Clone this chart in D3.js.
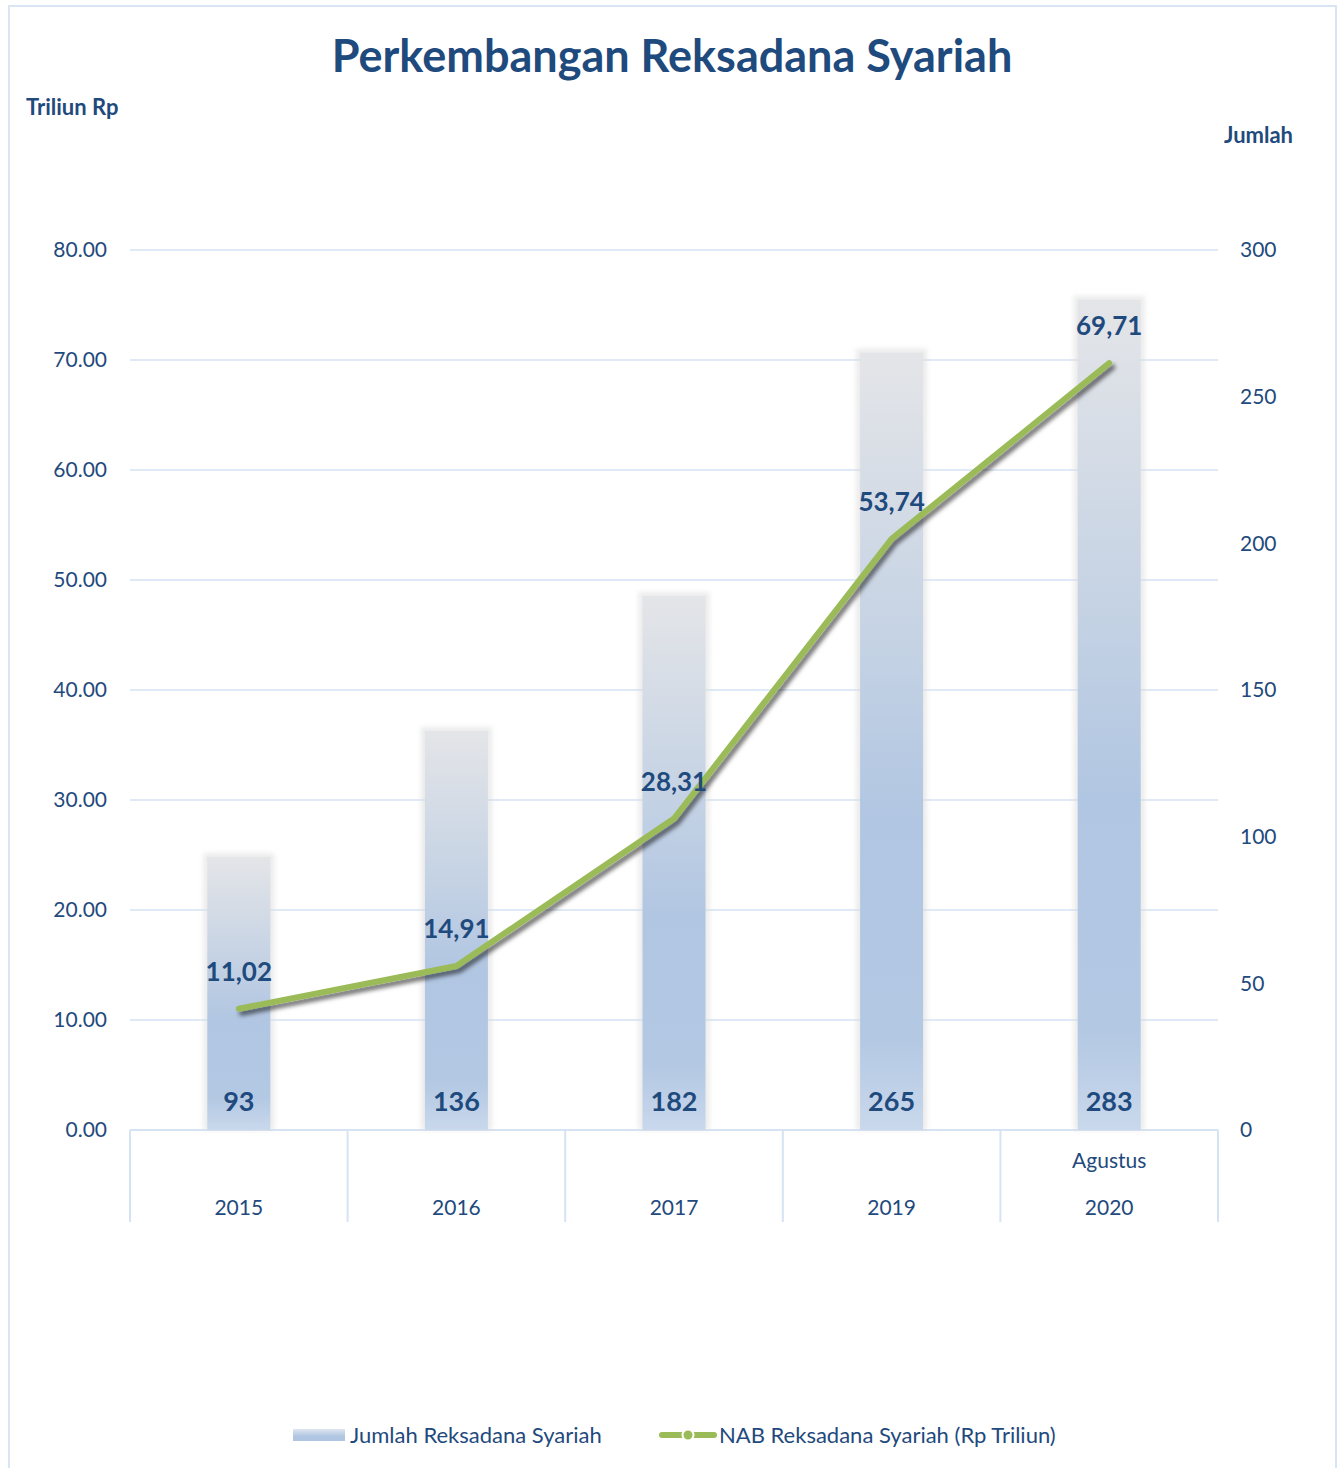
<!DOCTYPE html>
<html>
<head>
<meta charset="utf-8">
<script src="https://cdn.jsdelivr.net/npm/d3@7"></script>
<style>
  html, body { margin: 0; padding: 0; background: #fff; }
  svg { display: block; }
  text { font-family: Lato, "Open Sans", sans-serif; }
</style>
</head>
<body>
<svg id="chart" width="1343" height="1468"></svg>
<script>
// ---- data ----
const categories = ["2015", "2016", "2017", "2019", "2020"];
const categoryPrefix = ["", "", "", "", "Agustus"];
const jumlahReksadana = [93, 136, 182, 265, 283];
const nabReksadana = [11.02, 14.91, 28.31, 53.74, 69.71];
const nabLabels = ["11,02", "14,91", "28,31", "53,74", "69,71"];
const leftTicks = [0, 10, 20, 30, 40, 50, 60, 70, 80];
const rightTicks = [0, 50, 100, 150, 200, 250, 300];
const title = "Perkembangan Reksadana Syariah";
const seriesNames = ["Jumlah Reksadana Syariah", "NAB Reksadana Syariah (Rp Triliun)"];

// ---- layout ----
const W = 1343, H = 1468;
const plot = { left: 130, right: 1218, top: 250, bottom: 1130 };
const textColor = "#1f4a7d";
const gridColor = "#d6e3f3";

const svg = d3.select("#chart");
const defs = svg.append("defs");

// gradients
const g1 = defs.append("linearGradient").attr("id", "barGrad")
  .attr("x1", 0).attr("y1", 0).attr("x2", 0).attr("y2", 1);
g1.append("stop").attr("offset", "0%").attr("stop-color", "#e4e5e8");
g1.append("stop").attr("offset", "38%").attr("stop-color", "#c4d2e4");
g1.append("stop").attr("offset", "60%").attr("stop-color", "#b1c6e2");
g1.append("stop").attr("offset", "88%").attr("stop-color", "#b3c8e3");
g1.append("stop").attr("offset", "100%").attr("stop-color", "#c9d8ec");

const g2 = defs.append("linearGradient").attr("id", "legGrad")
  .attr("x1", 0).attr("y1", 0).attr("x2", 0).attr("y2", 1);
g2.append("stop").attr("offset", "0%").attr("stop-color", "#dfe6f0");
g2.append("stop").attr("offset", "60%").attr("stop-color", "#b1c6e2");
g2.append("stop").attr("offset", "100%").attr("stop-color", "#afc4e1");

const glow = defs.append("filter").attr("id", "glow")
  .attr("x", "-30%").attr("y", "-10%").attr("width", "160%").attr("height", "120%");
glow.append("feGaussianBlur").attr("stdDeviation", 2.5);

const shadow = defs.append("filter").attr("id", "shadow")
  .attr("x", "-10%").attr("y", "-10%").attr("width", "130%").attr("height", "130%");
shadow.append("feDropShadow").attr("dx", 3).attr("dy", 4).attr("stdDeviation", 2)
  .attr("flood-color", "#000").attr("flood-opacity", 0.55);

// border
svg.append("rect").attr("x", 9).attr("y", 6).attr("width", 1327).attr("height", H + 20)
  .attr("fill", "#fff").attr("stroke", "#d9e5f5").attr("stroke-width", 2);

// scales
const x = d3.scaleBand().domain(categories).range([plot.left, plot.right]).paddingInner(0).paddingOuter(0);
const yL = d3.scaleLinear().domain([0, 80]).range([plot.bottom, plot.top]);
const yR = d3.scaleLinear().domain([0, 300]).range([plot.bottom, plot.top]);

// title
svg.append("text").attr("x", 672).attr("y", 72).attr("text-anchor", "middle")
  .attr("font-size", 45).attr("font-weight", 700).attr("fill", textColor).text(title);

svg.append("text").attr("x", 26).attr("y", 115).attr("font-size", 22).attr("font-weight", 700)
  .attr("fill", textColor).text("Triliun Rp");
svg.append("text").attr("x", 1293).attr("y", 143).attr("text-anchor", "end")
  .attr("font-size", 22).attr("font-weight", 700).attr("fill", textColor).text("Jumlah");

// gridlines
svg.append("g").selectAll("line").data(leftTicks.filter(d => d > 0)).join("line")
  .attr("x1", plot.left).attr("x2", plot.right)
  .attr("y1", d => yL(d)).attr("y2", d => yL(d))
  .attr("stroke", gridColor).attr("stroke-width", 1.5);

// left axis
const axL = svg.append("g").attr("transform", `translate(${plot.left - 23},0)`)
  .call(d3.axisLeft(yL).tickValues(leftTicks).tickFormat(d3.format(".2f")).tickSize(0).tickPadding(0));
axL.select(".domain").remove();
axL.selectAll("text").attr("font-size", 21).attr("fill", textColor)
  .attr("font-family", "Lato, sans-serif");

// right axis
const axR = svg.append("g").attr("transform", `translate(${plot.right + 22},0)`)
  .call(d3.axisRight(yR).tickValues(rightTicks).tickFormat(d3.format("d")).tickSize(0).tickPadding(0));
axR.select(".domain").remove();
axR.selectAll("text").attr("font-size", 21).attr("fill", textColor)
  .attr("font-family", "Lato, sans-serif");

// x axis line and separators
svg.append("line").attr("x1", plot.left).attr("x2", plot.right)
  .attr("y1", plot.bottom).attr("y2", plot.bottom).attr("stroke", gridColor).attr("stroke-width", 2);
const seps = categories.map(c => x(c)).concat([plot.right]);
svg.append("g").selectAll("line").data(seps).join("line")
  .attr("x1", d => d).attr("x2", d => d).attr("y1", plot.bottom).attr("y2", 1222)
  .attr("stroke", gridColor).attr("stroke-width", 2);

// x labels
const xl = svg.append("g");
xl.selectAll("text.yr").data(categories).join("text").attr("class", "yr")
  .attr("x", d => x(d) + x.bandwidth() / 2).attr("y", 1215).attr("text-anchor", "middle")
  .attr("font-size", 21).attr("fill", textColor).text(d => d);
xl.selectAll("text.pre").data(categories).join("text").attr("class", "pre")
  .attr("x", d => x(d) + x.bandwidth() / 2).attr("y", 1168).attr("text-anchor", "middle")
  .attr("font-size", 21).attr("fill", textColor).text((d, i) => categoryPrefix[i]);

// bars
const barW = 63;
const bars = svg.append("g");
bars.selectAll("rect.glow").data(jumlahReksadana).join("rect").attr("class", "glow")
  .attr("x", (d, i) => x(categories[i]) + x.bandwidth() / 2 - barW / 2 - 4)
  .attr("y", d => yR(d) - 4)
  .attr("width", barW + 8).attr("height", d => plot.bottom - yR(d) + 4)
  .attr("fill", "#d8d8d8").attr("opacity", 0.5).attr("filter", "url(#glow)");
bars.selectAll("rect.bar").data(jumlahReksadana).join("rect").attr("class", "bar")
  .attr("x", (d, i) => x(categories[i]) + x.bandwidth() / 2 - barW / 2)
  .attr("y", d => yR(d))
  .attr("width", barW).attr("height", d => plot.bottom - yR(d))
  .attr("fill", "url(#barGrad)");

// bar labels
svg.append("g").selectAll("text").data(jumlahReksadana).join("text")
  .attr("x", (d, i) => x(categories[i]) + x.bandwidth() / 2).attr("y", 1111)
  .attr("text-anchor", "middle").attr("font-size", 27).attr("font-weight", 700)
  .attr("fill", textColor).text(d => d);

// line
const line = d3.line()
  .x((d, i) => x(categories[i]) + x.bandwidth() / 2)
  .y(d => yL(d));
svg.append("path").datum(nabReksadana).attr("d", line)
  .attr("fill", "none").attr("stroke", "#9bbb59").attr("stroke-width", 6)
  .attr("stroke-linejoin", "round").attr("stroke-linecap", "round")
  .attr("filter", "url(#shadow)");

// line labels
svg.append("g").selectAll("text").data(nabReksadana).join("text")
  .attr("x", (d, i) => x(categories[i]) + x.bandwidth() / 2).attr("y", d => yL(d) - 28)
  .attr("text-anchor", "middle").attr("font-size", 26).attr("font-weight", 700)
  .attr("fill", textColor).text((d, i) => nabLabels[i]);

// legend
const lg = svg.append("g");
lg.append("rect").attr("x", 293).attr("y", 1429).attr("width", 52).attr("height", 12)
  .attr("fill", "url(#legGrad)");
lg.append("text").attr("x", 350).attr("y", 1443).attr("font-size", 22).attr("fill", textColor)
  .text(seriesNames[0]);
lg.append("line").attr("x1", 662).attr("x2", 714).attr("y1", 1435).attr("y2", 1435)
  .attr("stroke", "#9bbb59").attr("stroke-width", 6).attr("stroke-linecap", "round");
lg.append("circle").attr("cx", 688).attr("cy", 1435).attr("r", 5.5)
  .attr("fill", "#9bbb59").attr("stroke", "#fff").attr("stroke-width", 2);
lg.append("text").attr("x", 719).attr("y", 1443).attr("font-size", 22).attr("fill", textColor)
  .text(seriesNames[1]);
</script>
</body>
</html>
